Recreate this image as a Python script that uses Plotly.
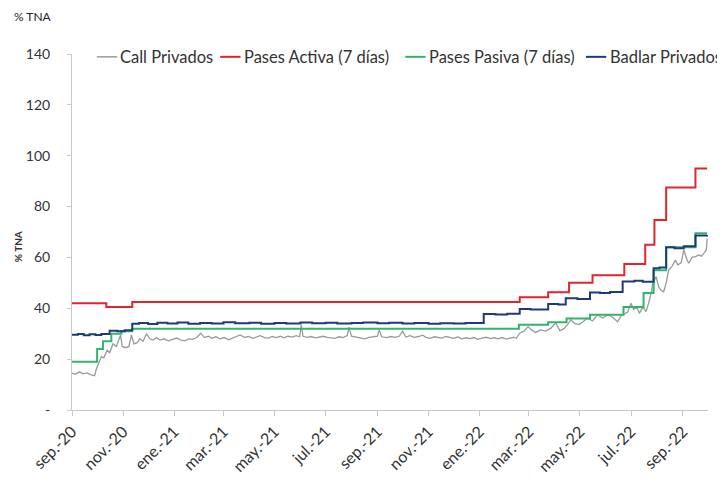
import plotly.graph_objects as go

# Tasas de interés, % TNA
call_privados = [
    ("2020-09-01", 14.5), ("2020-09-05", 14.0), ("2020-09-10", 15.0), ("2020-09-14", 14.2),
    ("2020-09-19", 14.6), ("2020-09-24", 13.8), ("2020-09-28", 13.5), ("2020-09-30", 16.0),
    ("2020-10-03", 18.5), ("2020-10-06", 21.0), ("2020-10-09", 20.5), ("2020-10-13", 23.5),
    ("2020-10-16", 22.5), ("2020-10-20", 26.0), ("2020-10-24", 25.0), ("2020-10-27", 28.0),
    ("2020-10-29", 29.5), ("2020-10-31", 25.0), ("2020-11-04", 24.5), ("2020-11-08", 25.0),
    ("2020-11-11", 29.5), ("2020-11-14", 26.0), ("2020-11-18", 26.5), ("2020-11-21", 28.0),
    ("2020-11-25", 27.0), ("2020-11-29", 30.0), ("2020-12-03", 28.0), ("2020-12-07", 27.5),
    ("2020-12-11", 28.5), ("2020-12-15", 27.5), ("2020-12-20", 28.0), ("2020-12-25", 27.2),
    ("2020-12-30", 27.8), ("2021-01-04", 28.3), ("2021-01-09", 27.5), ("2021-01-14", 27.2),
    ("2021-01-18", 28.0), ("2021-01-23", 27.8), ("2021-01-28", 28.5), ("2021-02-02", 30.2),
    ("2021-02-06", 28.5), ("2021-02-11", 29.0), ("2021-02-15", 28.2), ("2021-02-20", 28.8),
    ("2021-02-25", 28.0), ("2021-03-02", 28.5), ("2021-03-07", 27.6), ("2021-03-11", 28.2),
    ("2021-03-16", 28.8), ("2021-03-21", 29.5), ("2021-03-26", 28.6), ("2021-03-31", 28.9),
    ("2021-04-05", 28.2), ("2021-04-09", 28.7), ("2021-04-14", 29.2), ("2021-04-19", 28.5),
    ("2021-04-24", 28.3), ("2021-04-28", 28.9), ("2021-05-03", 28.5), ("2021-05-08", 29.0),
    ("2021-05-12", 28.4), ("2021-05-17", 29.0), ("2021-05-22", 28.7), ("2021-05-27", 29.2),
    ("2021-05-31", 28.8), ("2021-06-02", 33.4), ("2021-06-04", 29.0), ("2021-06-09", 28.6),
    ("2021-06-14", 28.9), ("2021-06-19", 28.4), ("2021-06-23", 28.8), ("2021-06-28", 29.0),
    ("2021-07-03", 28.6), ("2021-07-08", 28.4), ("2021-07-12", 28.2), ("2021-07-17", 28.8),
    ("2021-07-22", 28.5), ("2021-07-27", 29.3), ("2021-07-29", 32.6), ("2021-08-01", 29.0),
    ("2021-08-08", 28.6), ("2021-08-12", 28.3), ("2021-08-17", 28.0), ("2021-08-22", 28.6),
    ("2021-08-27", 28.8), ("2021-09-01", 29.0), ("2021-09-03", 31.5), ("2021-09-06", 28.8),
    ("2021-09-12", 28.5), ("2021-09-17", 28.9), ("2021-09-22", 28.6), ("2021-09-27", 29.0),
    ("2021-10-01", 31.0), ("2021-10-05", 28.7), ("2021-10-10", 29.2), ("2021-10-15", 28.6),
    ("2021-10-20", 28.9), ("2021-10-25", 29.4), ("2021-10-29", 28.6), ("2021-11-03", 28.2),
    ("2021-11-08", 28.8), ("2021-11-13", 28.5), ("2021-11-17", 28.3), ("2021-11-22", 28.9),
    ("2021-11-27", 28.6), ("2021-12-01", 28.2), ("2021-12-06", 28.7), ("2021-12-11", 28.0),
    ("2021-12-16", 28.4), ("2021-12-21", 28.1), ("2021-12-25", 28.5), ("2021-12-30", 27.8),
    ("2022-01-04", 28.3), ("2022-01-09", 28.6), ("2022-01-14", 28.1), ("2022-01-19", 28.4),
    ("2022-01-23", 28.0), ("2022-01-28", 28.5), ("2022-02-02", 27.9), ("2022-02-07", 28.3),
    ("2022-02-11", 28.6), ("2022-02-14", 28.2), ("2022-02-18", 30.2), ("2022-02-23", 31.0),
    ("2022-02-28", 32.8), ("2022-03-04", 31.5), ("2022-03-09", 30.5), ("2022-03-15", 31.5),
    ("2022-03-21", 31.0), ("2022-03-27", 32.1), ("2022-04-02", 34.3), ("2022-04-07", 31.2),
    ("2022-04-12", 32.0), ("2022-04-16", 33.5), ("2022-04-20", 35.4), ("2022-04-25", 34.0),
    ("2022-04-30", 33.6), ("2022-05-05", 34.8), ("2022-05-10", 36.1), ("2022-05-16", 35.0),
    ("2022-05-22", 37.4), ("2022-05-28", 36.2), ("2022-06-03", 37.4), ("2022-06-09", 36.5),
    ("2022-06-15", 34.7), ("2022-06-19", 37.0), ("2022-06-24", 38.0), ("2022-06-27", 38.5),
    ("2022-07-01", 42.0), ("2022-07-04", 39.5), ("2022-07-08", 40.5), ("2022-07-11", 38.0),
    ("2022-07-15", 40.6), ("2022-07-19", 38.7), ("2022-07-22", 42.0), ("2022-07-25", 45.9),
    ("2022-07-27", 49.8), ("2022-07-31", 52.4), ("2022-08-03", 48.5), ("2022-08-06", 47.0),
    ("2022-08-09", 46.5), ("2022-08-12", 50.0), ("2022-08-15", 55.0), ("2022-08-19", 56.5),
    ("2022-08-23", 59.0), ("2022-08-26", 57.0), ("2022-08-30", 58.0), ("2022-09-02", 63.0),
    ("2022-09-06", 59.0), ("2022-09-08", 57.7), ("2022-09-12", 60.0), ("2022-09-16", 60.3),
    ("2022-09-20", 61.0), ("2022-09-23", 60.5), ("2022-09-27", 62.0), ("2022-09-29", 63.0),
    ("2022-09-30", 67.5),
]

pases_activa = [
    ("2020-09-01", 42.0), ("2020-10-12", 40.5), ("2020-11-12", 42.5), ("2022-02-18", 44.3),
    ("2022-03-24", 46.3), ("2022-04-18", 50.0), ("2022-05-16", 53.0), ("2022-06-23", 57.4),
    ("2022-07-18", 65.0), ("2022-07-29", 74.7), ("2022-08-12", 87.5), ("2022-09-16", 95.0),
    ("2022-09-30", 95.0),
]

pases_pasiva = [
    ("2020-09-01", 19.0), ("2020-10-01", 24.0), ("2020-10-08", 27.0), ("2020-10-18", 30.0),
    ("2020-10-30", 31.0), ("2020-11-12", 32.0), ("2022-02-17", 33.5), ("2022-03-24", 34.5),
    ("2022-04-15", 36.0), ("2022-05-13", 37.5), ("2022-06-22", 40.5), ("2022-07-16", 46.0),
    ("2022-07-28", 55.0), ("2022-08-12", 64.0), ("2022-09-16", 69.5), ("2022-09-30", 69.5),
]

badlar_privados = [
    ("2020-09-01", 29.6), ("2020-09-08", 29.9), ("2020-09-15", 29.4), ("2020-09-22", 29.8),
    ("2020-09-29", 29.5), ("2020-10-06", 29.9), ("2020-10-16", 31.2), ("2020-10-25", 31.0),
    ("2020-11-03", 31.4), ("2020-11-12", 33.9), ("2020-11-20", 34.2), ("2020-12-01", 33.8),
    ("2020-12-12", 34.3), ("2020-12-24", 34.0), ("2021-01-05", 34.4), ("2021-01-18", 33.9),
    ("2021-02-01", 34.2), ("2021-02-15", 34.0), ("2021-03-01", 34.5), ("2021-03-15", 34.1),
    ("2021-04-01", 34.3), ("2021-04-15", 33.9), ("2021-05-01", 34.2), ("2021-05-15", 34.0),
    ("2021-06-01", 34.4), ("2021-06-15", 34.1), ("2021-07-01", 34.3), ("2021-07-15", 34.0),
    ("2021-08-01", 34.2), ("2021-08-15", 34.4), ("2021-09-01", 34.1), ("2021-09-15", 34.3),
    ("2021-10-01", 34.0), ("2021-10-15", 34.2), ("2021-11-01", 33.9), ("2021-11-15", 34.1),
    ("2021-12-01", 34.0), ("2021-12-15", 34.2), ("2022-01-06", 37.8), ("2022-01-20", 37.6),
    ("2022-02-03", 37.9), ("2022-02-18", 39.7), ("2022-03-03", 39.5), ("2022-03-24", 41.7),
    ("2022-04-05", 41.5), ("2022-04-14", 43.9), ("2022-04-28", 43.7), ("2022-05-13", 46.2),
    ("2022-05-25", 46.0), ("2022-06-06", 46.4), ("2022-06-21", 50.5), ("2022-07-05", 50.8),
    ("2022-07-15", 50.4), ("2022-07-28", 55.7), ("2022-08-04", 56.0), ("2022-08-12", 64.0),
    ("2022-08-22", 63.6), ("2022-09-02", 64.4), ("2022-09-16", 68.6), ("2022-09-30", 68.8),
]

tick_dates = ["2020-09-01", "2020-11-01", "2021-01-01", "2021-03-01", "2021-05-01",
              "2021-07-01", "2021-09-01", "2021-11-01", "2022-01-01", "2022-03-01",
              "2022-05-01", "2022-07-01", "2022-09-01"]
tick_labels = ["sep.-20", "nov.-20", "ene.-21", "mar.-21", "may.-21", "jul.-21", "sep.-21",
               "nov.-21", "ene.-22", "mar.-22", "may.-22", "jul.-22", "sep.-22"]
y_ticks = [0, 20, 40, 60, 80, 100, 120, 140]
y_labels = ["-", "20", "40", "60", "80", "100", "120", "140"]

FONT = "Lato"
TXT = "#333333"
AXIS = "#c8c8c8"

# legend drawn by hand so it fits on a single row like the original
legend_x = [0.039, 0.233, 0.524, 0.808]   # paper x of each legend line start
LEG_Y = 0.992
LEG_LINE = 0.032

fig = go.Figure()
legend_shapes = []
legend_texts = []


def add_series(data, name, color, width, shape, lx):
    xs = [d for d, _ in data]
    ys = [v for _, v in data]
    fig.add_trace(go.Scatter(x=xs, y=ys, name=name, mode="lines", showlegend=False,
                             line=dict(color=color, width=width, shape=shape)))
    legend_shapes.append(dict(type="line", xref="paper", yref="paper",
                              x0=lx, x1=lx + LEG_LINE, y0=LEG_Y, y1=LEG_Y,
                              line=dict(color=color, width=width if width > 1.5 else 1.5)))
    legend_texts.append(dict(text=name, xref="paper", yref="paper",
                             x=lx + LEG_LINE + 0.002, y=LEG_Y, showarrow=False,
                             xanchor="left", yanchor="middle",
                             font=dict(size=16.5, color=TXT)))


add_series(call_privados, "Call Privados", "#9a9a9a", 1.3, "linear", legend_x[0])
add_series(pases_activa, "Pases Activa (7 días)", "#e0262d", 2, "hv", legend_x[1])
add_series(pases_pasiva, "Pases Pasiva (7 días)", "#2fb56c", 2, "hv", legend_x[2])
add_series(badlar_privados, "Badlar Privados", "#1f3a78", 2, "hv", legend_x[3])

# the page adds an 8px body margin, so the figure is a little smaller than the window
fig.update_layout(
    width=717, height=496,
    margin=dict(l=64, r=17, t=46, b=94),
    paper_bgcolor="white", plot_bgcolor="white",
    font=dict(family=FONT, size=14, color=TXT),
    showlegend=False,
    xaxis=dict(type="date", range=["2020-09-01", "2022-10-01"], automargin=False,
               tickvals=tick_dates, ticktext=tick_labels, tickangle=-45,
               showgrid=False, zeroline=False, showline=True, linecolor=AXIS,
               ticks="outside", ticklen=5, tickcolor=AXIS,
               tickfont=dict(size=16, color=TXT)),
    yaxis=dict(range=[0, 140], tickvals=y_ticks, ticktext=y_labels, automargin=False,
               showgrid=False, zeroline=False, showline=True, linecolor=AXIS,
               ticks="outside", ticklen=4, tickcolor=AXIS, ticklabelstandoff=14,
               tickfont=dict(size=14, color=TXT)),
    shapes=legend_shapes,
    annotations=legend_texts + [
        dict(text="<b>% TNA</b>", xref="paper", yref="paper", x=-0.085, y=0.46,
             textangle=-90, showarrow=False, font=dict(size=10, color=TXT),
             xanchor="center", yanchor="middle"),
        dict(text="% TNA", xref="paper", yref="paper", x=-0.094, y=1.105,
             showarrow=False, font=dict(size=12, color="#222222"),
             xanchor="left", yanchor="middle"),
    ],
)

fig.write_html("out.html")
